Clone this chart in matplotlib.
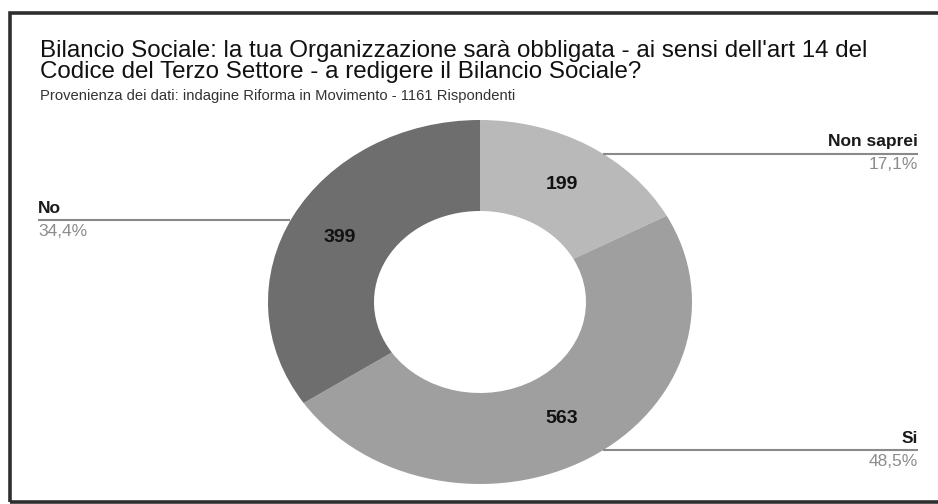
import matplotlib.pyplot as plt
import numpy as np
from matplotlib.patches import Rectangle

plt.rcParams['font.family'] = ['Liberation Sans', 'DejaVu Sans']

title_lines = ["Bilancio Sociale: la tua Organizzazione sarà obbligata - ai sensi dell'art 14 del",
               "Codice del Terzo Settore - a redigere il Bilancio Sociale?"]
subtitle = "Provenienza dei dati: indagine Riforma in Movimento - 1161 Rispondenti"

labels = ['Non saprei', 'Si', 'No']
counts = [199, 563, 399]
colors = ['#b9b9b9', '#9f9f9f', '#6e6e6e']

W, H = 938, 504
fig = plt.figure(figsize=(W / 100, H / 100), dpi=100)

# dark frame (right side runs off the image)
fig.patches.append(Rectangle((10 / W, 1 - 502 / H), 940 / W, (502 - 13) / H,
                             transform=fig.transFigure, fill=False,
                             edgecolor='#2e2e2e', linewidth=2.6))

for i, line in enumerate(title_lines):
    fig.text(40 / W, 1 - (57 + 21 * i) / H, line, fontsize=17.4,
             color='#111111', va='baseline', ha='left')
fig.text(40 / W, 1 - 100 / H, subtitle, fontsize=10.6, color='#333333',
         va='baseline', ha='left')

# donut is drawn a little wider than tall
cx, cy, rx, ry = 480, 302, 212, 182
ax = fig.add_axes([(cx - rx) / W, 1 - (cy + ry) / H, 2 * rx / W, 2 * ry / H])
wedges, _ = ax.pie(counts, colors=colors, startangle=90, counterclock=False,
                   radius=1, wedgeprops=dict(width=0.5, linewidth=0))
ax.set_xlim(-1, 1)
ax.set_ylim(-1, 1)
ax.set_aspect('auto')
ax.axis('off')

total = sum(counts)
x_right = (918 - cx) / rx
x_left = (38 - cx) / rx
for w, lab, n in zip(wedges, labels, counts):
    mid = np.deg2rad((w.theta1 + w.theta2) / 2)
    c, s = np.cos(mid), np.sin(mid)
    ax.text(0.75 * c, 0.75 * s, str(n), ha='center', va='center',
            fontsize=14, fontweight='bold', color='#111111')
    pct = f"{100 * n / total:.1f}%".replace('.', ',')
    xe = x_right if c > 0 else x_left
    ha = 'right' if c > 0 else 'left'
    # leader line from just inside the outer edge out to the label
    ys = 0.95 * s
    xs = max(0.95 * c, np.sqrt(1 - ys ** 2)) if c > 0 else min(0.95 * c, -np.sqrt(1 - ys ** 2))
    ax.plot([xs, xe], [ys, ys], color='#8a8a8a', linewidth=1.5,
            clip_on=False, solid_capstyle='butt', zorder=3)
    ax.text(xe, ys + 0.025, lab, ha=ha, va='bottom', fontsize=12.5,
            fontweight='bold', color='#1a1a1a', clip_on=False)
    ax.text(xe, ys - 0.02, pct, ha=ha, va='top', fontsize=12.5,
            color='#8c8c8c', clip_on=False)

fig.savefig('out.png', dpi=100, facecolor='white')
